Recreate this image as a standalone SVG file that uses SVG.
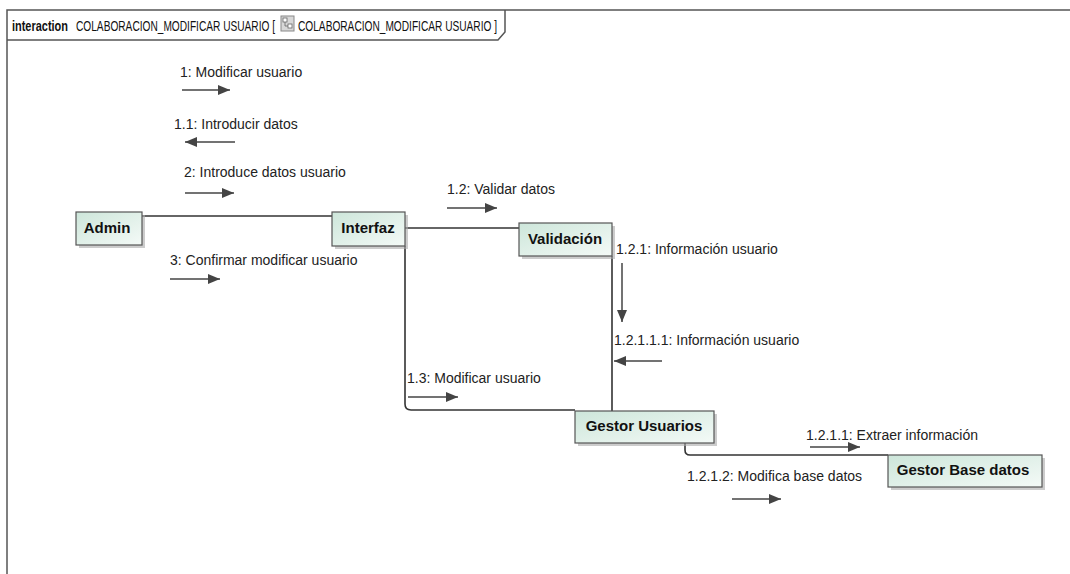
<svg xmlns="http://www.w3.org/2000/svg" width="1070" height="574" viewBox="0 0 1070 574">
<defs>
<linearGradient id="nodeFill" x1="0" y1="0" x2="1" y2="1">
<stop offset="0" stop-color="#cde6da"/>
<stop offset="1" stop-color="#f4faf7"/>
</linearGradient>
<marker id="ah" viewBox="0 0 12 10" refX="12" refY="5" markerWidth="12" markerHeight="10" markerUnits="userSpaceOnUse" orient="auto">
<path d="M0,0 L12,5 L0,10 Z" fill="#444"/>
</marker>
<style>
.frame{fill:none;stroke:#555;stroke-width:1.5}
.node rect.box{fill:url(#nodeFill);stroke:#555;stroke-width:1.2}
.node rect.sh{fill:#aaa;opacity:0.6}
.node text{font-family:"Liberation Sans",Arial,sans-serif;font-weight:bold;font-size:15px;fill:#111;text-anchor:middle}
.conn{fill:none;stroke:#333;stroke-width:1.6}
.msg{stroke:#444;stroke-width:1.5;marker-end:url(#ah);fill:none}
.lbl{font-family:"Liberation Sans",Arial,sans-serif;font-size:14px;fill:#222}
.hdr{font-family:"Liberation Sans",Arial,sans-serif;font-size:15px;fill:#111}
</style>
</defs>
<rect width="1070" height="574" fill="#fff"/>
<!-- frame -->
<g id="frame">
<path class="frame" d="M7,580 L7,10 L1075,10"/>
<path class="frame" d="M7,40 L498,40 L505,32 L505,10"/>
<text class="hdr" transform="translate(12,31) scale(0.73,1)" font-weight="bold">interaction</text>
<text class="hdr" transform="translate(76,31) scale(0.677,1)">COLABORACION_MODIFICAR USUARIO [</text>
<g id="icon">
<rect x="281" y="16" width="13" height="15" fill="#d8d8d8" stroke="#888" stroke-width="1"/>
<rect x="283" y="18" width="4" height="4" fill="#fff" stroke="#666" stroke-width="0.8"/>
<rect x="288" y="24" width="4" height="4" fill="#fff" stroke="#666" stroke-width="0.8"/>
<path d="M285,22 L285,26 L288,26" fill="none" stroke="#666" stroke-width="0.8"/>
</g>
<text class="hdr" transform="translate(298,31) scale(0.677,1)">COLABORACION_MODIFICAR USUARIO ]</text>
</g>
<!-- connectors -->
<g id="connectors">
<path class="conn" d="M142,216 L332,216"/>
<path class="conn" d="M405,228 L519,228"/>
<path class="conn" d="M405,246 L405,404 Q405,410 411,410 L575,410"/>
<path class="conn" d="M612,256 L612,411"/>
<path class="conn" d="M685,443 L685,450 Q685,455 690,455 L888,455"/>
</g>
<!-- message arrows and labels -->
<g id="messages">
<text class="lbl" x="180" y="77">1: Modificar usuario</text>
<path class="msg" d="M182,90 L230,90"/>
<text class="lbl" x="174" y="129">1.1: Introducir datos</text>
<path class="msg" d="M235,142 L185,142"/>
<text class="lbl" x="184" y="177">2: Introduce datos usuario</text>
<path class="msg" d="M185,193 L234,193"/>
<text class="lbl" x="170" y="265">3: Confirmar modificar usuario</text>
<path class="msg" d="M170,279 L220,279"/>
<text class="lbl" x="447" y="194">1.2: Validar datos</text>
<path class="msg" d="M447,208 L497,208"/>
<text class="lbl" x="616" y="254">1.2.1: Información usuario</text>
<path class="msg" d="M622,263 L622,322"/>
<text class="lbl" x="614" y="345">1.2.1.1.1: Información usuario</text>
<path class="msg" d="M662,361 L614,361"/>
<text class="lbl" x="407" y="383">1.3: Modificar usuario</text>
<path class="msg" d="M408,397 L458,397"/>
<text class="lbl" x="806" y="440">1.2.1.1: Extraer información</text>
<path class="msg" d="M810,447 L860,447"/>
<text class="lbl" x="687" y="481">1.2.1.2: Modifica base datos</text>
<path class="msg" d="M732,499 L781,499"/>
</g>
<!-- nodes -->
<g id="admin" class="node">
<rect class="sh" x="79" y="215" width="66" height="33"/>
<rect class="box" x="76" y="212" width="66" height="33"/>
<text x="107" y="233">Admin</text>
</g>
<g id="interfaz" class="node">
<rect class="sh" x="335" y="215" width="73" height="34"/>
<rect class="box" x="332" y="212" width="73" height="34"/>
<text x="368" y="233">Interfaz</text>
</g>
<g id="validacion" class="node">
<rect class="sh" x="522" y="226" width="93" height="33"/>
<rect class="box" x="519" y="223" width="93" height="33"/>
<text x="565" y="244">Validación</text>
</g>
<g id="gestorUsuarios" class="node">
<rect class="sh" x="578" y="414" width="139" height="32"/>
<rect class="box" x="575" y="411" width="139" height="32"/>
<text x="644" y="431">Gestor Usuarios</text>
</g>
<g id="gestorBaseDatos" class="node">
<rect class="sh" x="891" y="458" width="154" height="32"/>
<rect class="box" x="888" y="455" width="154" height="32"/>
<text x="963" y="475">Gestor Base datos</text>
</g>
</svg>
